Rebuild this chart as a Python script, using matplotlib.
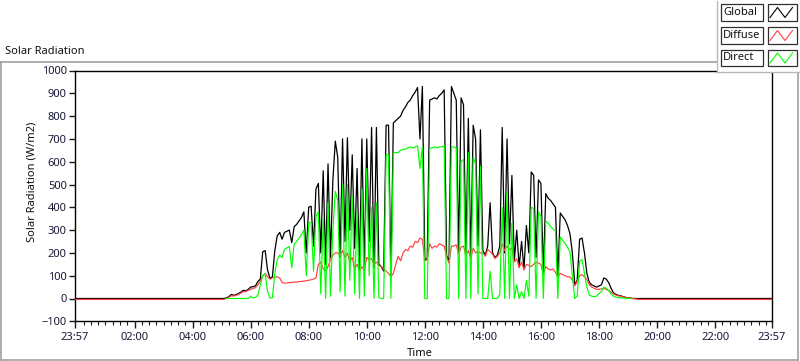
import numpy as np
import matplotlib
matplotlib.use("Agg")
import matplotlib.pyplot as plt
from matplotlib.patches import Rectangle
from matplotlib.lines import Line2D

nan = np.nan

# ---------------- data (5-minute samples from 05:00 to 19:30) ----------------
global_rad = [
    0, 0, 3, 8, 18, 14, 17, 22, 28, 36, 33, 40,                          # 05
    50, 52, 55, 75, 85, 205, 210, 125, 88, 95, 210, 275,                 # 06
    290, 260, 290, 295, 300, 245, 315, 325, 340, 355, 380, 200,          # 07
    400, 405, 230, 480, 505, 200, 560, 150, 590, 180, 520, 690,          # 08
    620, 180, 700, 250, 705, 300, 630, 220, 570, 130, 700, 140,          # 09
    700, 250, 750, 135, 750, 150, 140, 120, 760, 760, 100, 770,          # 10
    780, 790, 800, 825, 840, 860, 870, 890, 905, 925, 700, 930,          # 11
    170, 175, 870, 875, 880, 875, 890, 900, 915, 190, 160, 930,          # 12
    900, 870, 200, 880, 850, 200, 790, 180, 760, 700, 230, 740,          # 13
    210, 190, 230, 420, 200, 180, 190, 230, 750, 200, 700, 240,          # 14
    540, 165, 300, 140, 250, 130, 320, 200, 555, 540, 180, 520,          # 15
    505, 110, 460, 440, 430, 415, 400, 100, 375, 360, 345, 320,          # 16
    285, 200, 60, 80, 260, 265, 200, 110, 70, 60, 55, 50,                # 17
    55, 60, 90, 85, 70, 45, 25, 18, 14, 12, 8, 5,                        # 18
    3, 2, 0, 0, 0, 0, 0,                                                 # 19
]
diffuse_rad = [
    -4, -4, 0, 5, 12, 11, 14, 18, 24, 30, 30, 36,
    40, 44, 48, 60, 75, 100, 110, 95, 85, 90, 95, 95,
    90, 70, 68, 68, 70, 70, 72, 72, 74, 75, 76, 78,
    80, 82, 85, 90, 150, 160, 130, 120, 140, 170, 190, 200,
    200, 190, 210, 180, 200, 160, 180, 130, 150, 120, 140, 120,
    180, 170, 175, 150, 160, 145, 140, 130, 120, 110, 95, 110,
    150, 185, 165, 200, 215, 210, 230, 225, 250, 245, 265, 260,
    165, 170, 240, 220, 230, 225, 240, 235, 230, 185, 155, 230,
    230, 235, 195, 225, 230, 190, 210, 175, 220, 200, 205, 200,
    200, 185, 215, 205, 195, 175, 185, 200, 240, 210, 230, 215,
    220, 160, 175, 135, 160, 125, 150, 145, 140, 150, 160, 155,
    150, 105, 140, 130, 125, 130, 115, 95, 110, 105, 100, 95,
    95, 80, 55, 75, 100, 105, 95, 85, 60, 50, 45, 40,
    40, 42, 45, 40, 35, 28, 20, 15, 12, 10, 7, 5,
    2, 1, 0, -2, -3, -4, -4,
]
direct_rad = [
    nan, nan, 0, 0, 0, 0, 0, 0, 0, 0, 0, 0,
    10, 2, 5, 15, 60, 100, 110, 30, 2, 3, 110, 170,
    190, 180, 215, 222, 228, 135, 240, 250, 265, 280, 300, 100,
    330, 335, 120, 360, 380, 20, 350, 0, 420, 10, 300, 470,
    430, 30, 500, 10, 500, 80, 450, 20, 380, 0, 480, 10,
    570, 100, 400, 0, 420, 5, 0, 0, 630, 630, 0, 640,
    640, 640, 650, 655, 655, 660, 665, 660, 665, 670, 570, 665,
    0, 0, 660, 660, 665, 660, 665, 665, 670, 0, 0, 665,
    665, 660, 0, 600, 610, 0, 640, 0, 620, 590, 20, 580,
    0, 0, 0, 120, 0, 0, 0, 20, 400, 0, 470, 0,
    330, 0, 60, 0, 30, 0, 80, 10, 400, 395, 0, 380,
    360, 0, 340, 330, 315, 305, 295, 0, 270, 255, 240, 225,
    205, 100, 0, 10, 165, 170, 110, 50, 15, 10, 8, 10,
    22, 30, 50, 45, 35, 20, 10, 6, 4, 3, 2, 1,
    0, 0, nan, nan, nan, nan, nan,
]
night_global = 0
night_diffuse = -4

series_names = ["Global", "Diffuse", "Direct"]
series_colors = ["#000000", "#ff4040", "#00ff00"]
tick_labels = ["23:57", "02:00", "04:00", "06:00", "08:00", "10:00", "12:00",
               "14:00", "16:00", "18:00", "20:00", "22:00", "23:57"]

# ---------------- figure ----------------
W, H = 800, 361
fig = plt.figure(figsize=(8, 3.61), dpi=100)
fig.patch.set_facecolor("white")
plt.rcParams["font.family"] = ["Noto Sans", "DejaVu Sans"]

def fx(x):
    return x / W

def fy(y):
    return 1 - y / H

# outer panel border
fig.add_artist(Line2D([fx(0.5), fx(0.5)], [fy(62), fy(359.5)], color="#a0a0a0", lw=1.2))
fig.add_artist(Line2D([fx(0.5), fx(717)], [fy(62), fy(62)], color="#a0a0a0", lw=1.2))
fig.add_artist(Line2D([fx(0.5), fx(797.5)], [fy(359.5), fy(359.5)], color="#a0a0a0", lw=1.2))
fig.add_artist(Line2D([fx(797.5), fx(797.5)], [fy(72), fy(359.5)], color="#a0a0a0", lw=1.2))

fig.text(fx(5), fy(51), "Solar Radiation", fontsize=8, va="center", ha="left", color="#101010")

ax = fig.add_axes([fx(75), fy(321.3), fx(771.7) - fx(75), fy(70.5) - fy(321.3)])

day_t = 5 + np.arange(len(global_rad)) / 12.0
t_all = np.concatenate([[-0.05], day_t, [23.95]])
g_all = np.concatenate([[night_global], global_rad, [night_global]])
d_all = np.concatenate([[night_diffuse], diffuse_rad, [night_diffuse]])
b_all = np.concatenate([[nan], direct_rad, [nan]])

ax.plot(t_all, g_all, color=series_colors[0], lw=0.9, zorder=2)
ax.plot(t_all, d_all, color=series_colors[1], lw=0.85, zorder=3)
ax.plot(t_all, b_all, color=series_colors[2], lw=0.85, zorder=4)

ax.set_xlim(-0.05, 23.95)
ax.set_ylim(-100, 1000)
major_pos = [-0.05] + list(range(2, 23, 2)) + [23.95]
ax.set_xticks(major_pos)
ax.set_xticklabels(tick_labels)
ax.set_xticks(np.arange(0.25, 23.9, 0.25), minor=True)
ax.set_yticks(np.arange(-100, 1001, 100))
ax.tick_params(axis="x", which="major", length=5, width=1, pad=3, labelsize=8, colors="#1a1a1a", labelcolor="#181838")
ax.tick_params(axis="x", which="minor", length=3, width=0.8, colors="#1a1a1a")
ax.tick_params(axis="y", which="major", length=4, width=1, pad=2, labelsize=8, colors="#1a1a1a", labelcolor="#181838")
for s in ax.spines.values():
    s.set_color("black")
    s.set_linewidth(1.0)
ax.set_facecolor("white")

fig.text(fx(32), fy(182), "Solar Radiation (W/m2)", rotation=90, fontsize=8,
         ha="center", va="center", color="#101010")
fig.text(fx(420), fy(353), "Time", fontsize=8, ha="center", va="center", color="#101010")

# legend panel
fig.add_artist(Rectangle((fx(717), fy(72)), fx(800) - fx(717), fy(0) - fy(72),
                         facecolor="white", edgecolor="none", zorder=5))
fig.add_artist(Line2D([fx(717), fx(717)], [fy(1), fy(72)], color="#b8b8b8", lw=1.0, zorder=6))
fig.add_artist(Line2D([fx(717), fx(800)], [fy(72), fy(72)], color="#b8b8b8", lw=1.0, zorder=6))
row_tops = [4, 27, 49.5]
for name, col, top in zip(series_names, series_colors, row_tops):
    h = 16.5
    fig.add_artist(Rectangle((fx(720.7), fy(top + h)), fx(763.3) - fx(720.7), fy(top) - fy(top + h),
                             facecolor="white", edgecolor="#303030", lw=0.9, zorder=7))
    fig.text(fx(723), fy(top + h / 2), name, fontsize=8, ha="left", va="center", color="#101010", zorder=8)
    fig.add_artist(Rectangle((fx(767.7), fy(top + h)), fx(796.7) - fx(767.7), fy(top) - fy(top + h),
                             facecolor="white", edgecolor="#303030", lw=0.9, zorder=7))
    zx = [770, 777.5, 785, 792.5]
    zy = [top + 13.5, top + 3.5, top + 13.5, top + 3.5]
    fig.add_artist(Line2D([fx(v) for v in zx], [fy(v) for v in zy], color=col, lw=0.8, zorder=8))

fig.savefig("out.png", dpi=100, facecolor="white")
